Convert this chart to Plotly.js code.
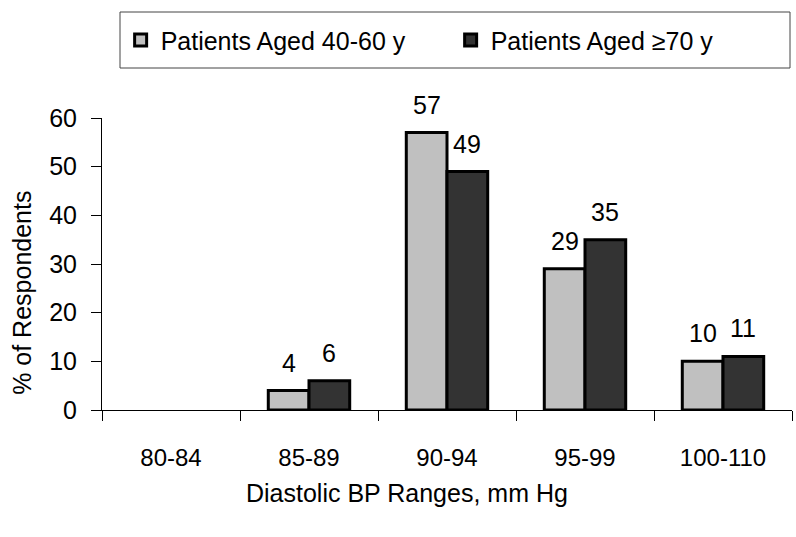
<!DOCTYPE html>
<html>
<head>
<meta charset="utf-8">
<script src="https://cdn.plot.ly/plotly-3.0.1.min.js"></script>
<style>
  html, body { margin: 0; padding: 0; background: #ffffff; }
  #chart { width: 796px; height: 537px; }
</style>
</head>
<body>
<div id="chart"></div>
<script>
// Diastolic BP ranges (mm Hg)
const categories = ['80-84', '85-89', '90-94', '95-99', '100-110'];
// % of respondents per age group
const aged40to60 = [0, 4, 57, 29, 10];
const aged70plus = [0, 6, 49, 35, 11];
const seriesNames = ['Patients Aged 40-60 y', 'Patients Aged \u226570 y'];
const yTicks = [0, 10, 20, 30, 40, 50, 60];

const FONT = 'Liberation Sans, Arial, Helvetica, sans-serif';
const FS = 25;
const BARGAP = 0.41;

// a 0% bar is left empty so its outline does not show on the baseline
const drawn = vals => vals.map(v => (v > 0 ? v : null));
const barLine = { color: '#000000', width: 3 };

const traces = [
  {
    type: 'bar', name: seriesNames[0], x: categories, y: drawn(aged40to60),
    marker: { color: '#c0c0c0', line: barLine }, hoverinfo: 'x+y'
  },
  {
    type: 'bar', name: seriesNames[1], x: categories, y: drawn(aged70plus),
    marker: { color: '#333333', line: barLine }, hoverinfo: 'x+y'
  }
];

// value labels centred over each bar
const half = (1 - BARGAP) / 4;
const annotations = [];
[aged40to60, aged70plus].forEach((vals, s) => {
  vals.forEach((v, i) => {
    if (v > 0) {
      annotations.push({
        x: i + (s === 0 ? -half : half), y: v, xref: 'x', yref: 'y',
        text: String(v), showarrow: false, yanchor: 'middle', yshift: 28,
        font: { family: FONT, size: FS, color: '#000000' }
      });
    }
  });
});

// axis titles
annotations.push({
  xref: 'paper', yref: 'paper', x: 0.442, y: -0.284,
  text: 'Diastolic BP Ranges, mm Hg', showarrow: false,
  xanchor: 'center', yanchor: 'middle',
  font: { family: FONT, size: FS, color: '#000000' }
});
annotations.push({
  xref: 'paper', yref: 'paper', x: -0.115, y: 0.40,
  text: '% of Respondents', showarrow: false, textangle: -90,
  xanchor: 'center', yanchor: 'middle',
  font: { family: FONT, size: FS, color: '#000000' }
});

const layout = {
  width: 796, height: 537,
  margin: { l: 102, r: 4, t: 118, b: 127 },
  paper_bgcolor: '#ffffff', plot_bgcolor: '#ffffff',
  font: { family: FONT, size: FS, color: '#000000' },
  barmode: 'group', bargap: BARGAP, bargroupgap: 0,
  showlegend: true,
  legend: {
    orientation: 'h', x: 0.027, y: 1.345, xanchor: 'left', yanchor: 'top',
    entrywidth: 285, entrywidthmode: 'pixels',
    font: { family: FONT, size: FS, color: '#000000' },
    bgcolor: 'rgba(0,0,0,0)', borderwidth: 0
  },
  shapes: [{
    type: 'rect', xref: 'paper', yref: 'paper',
    x0: (120 - 102) / 690, x1: (790 - 102) / 690,
    y0: 1 + (118 - 68) / 292, y1: 1 + (118 - 12) / 292,
    line: { color: '#444444', width: 1 }, fillcolor: 'rgba(0,0,0,0)'
  }],
  xaxis: {
    type: 'category', tickson: 'boundaries', ticks: 'outside', ticklen: 10,
    tickcolor: '#000000', tickwidth: 1,
    showline: true, linecolor: '#000000', linewidth: 1,
    showgrid: false, zeroline: false, ticklabelstandoff: 26,
    tickfont: { family: FONT, size: 24, color: '#000000' }
  },
  yaxis: {
    range: [0, 60], tickvals: yTicks, ticktext: yTicks.map(String),
    ticks: 'outside', ticklen: 10, tickcolor: '#000000', tickwidth: 1,
    showline: true, linecolor: '#000000', linewidth: 1,
    showgrid: false, zeroline: false, ticklabelstandoff: 9,
    tickfont: { family: FONT, size: FS, color: '#000000' }
  },
  annotations: annotations
};

Plotly.newPlot('chart', traces, layout, { displayModeBar: false, staticPlot: true });
</script>
</body>
</html>
